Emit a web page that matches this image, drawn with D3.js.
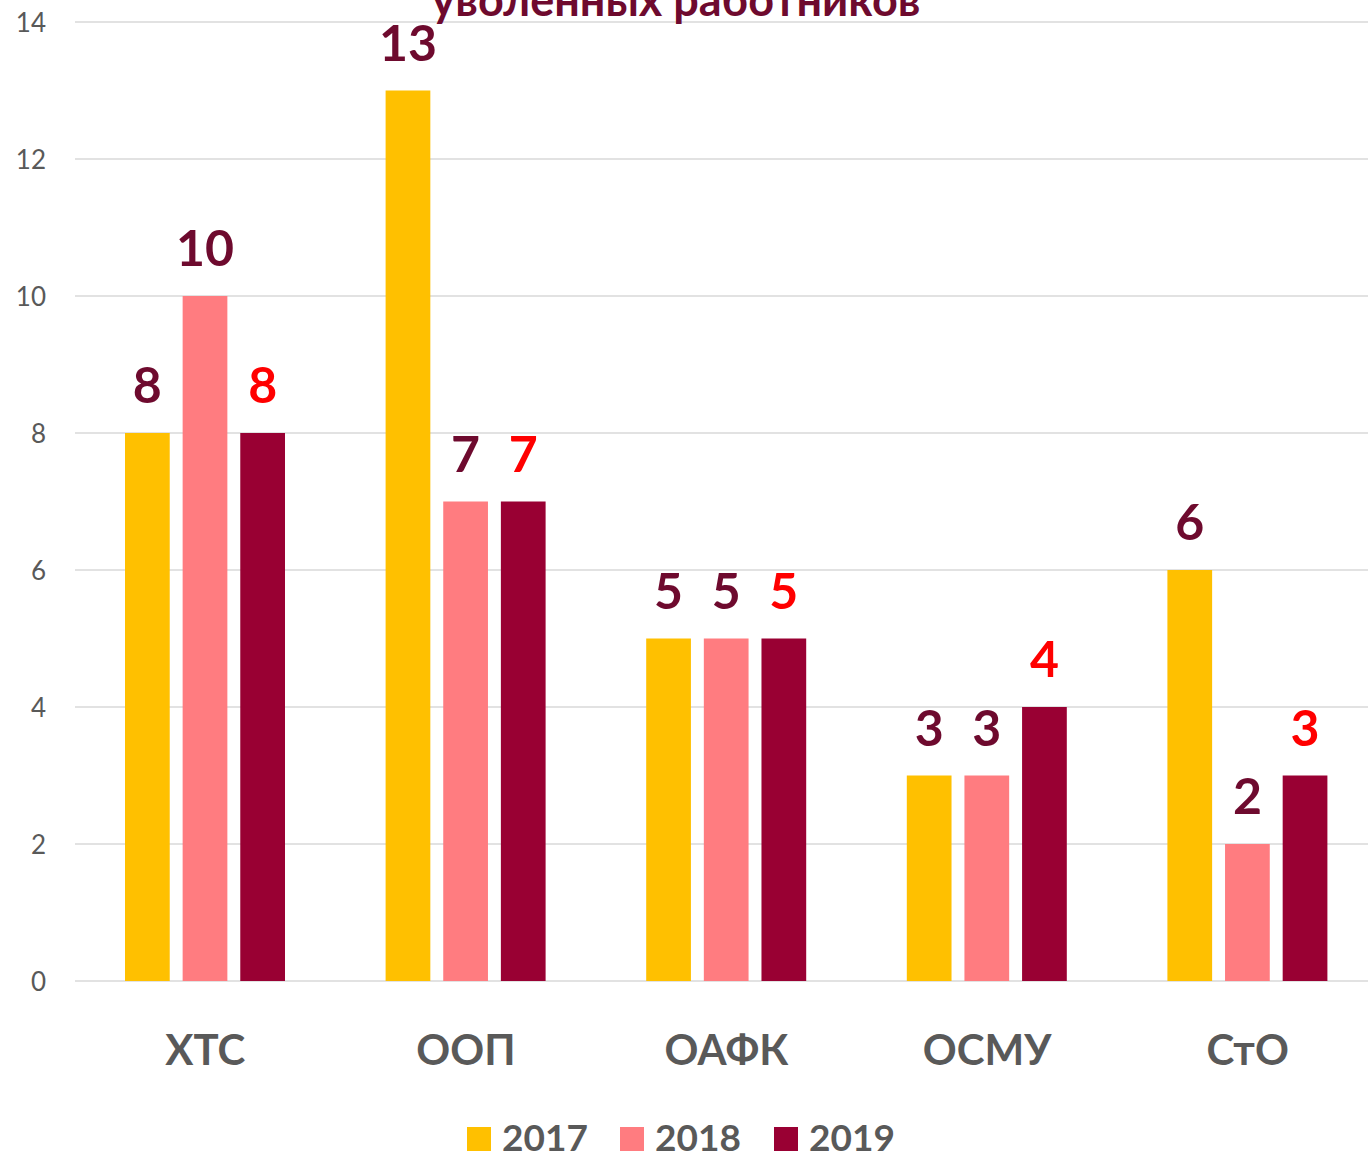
<!DOCTYPE html>
<html><head><meta charset="utf-8">
<script src="https://cdn.jsdelivr.net/npm/d3@7"></script>
<style>body{margin:0;background:#fff}svg{display:block}</style>
</head><body>
<svg id="c" width="1368" height="1156"></svg>
<script>
const categories = ["ХТС","ООП","ОАФК","ОСМУ","СтО"];
const years = ["2017","2018","2019"];
const v2017 = [8,13,5,3,6];
const v2018 = [10,7,5,3,2];
const v2019 = [8,7,5,4,3];
const yTicks = [0,2,4,6,8,10,12,14];
const colors = ["#FFC000","#FF7C80","#990033"];
const labelColors = ["#6E0A2E","#6E0A2E","#FF0000"];
const titleText = "уволенных работников";

const series = [v2017, v2018, v2019];
const svg = d3.select("#c");
const font = "Lato, 'Open Sans', sans-serif";
const x0 = d3.scaleBand().domain(categories).range([75, 1378]).paddingInner(0).paddingOuter(0);
const x1 = d3.scaleBand().domain(years).range([50, 210]).paddingInner(0.224);
const y = d3.scaleLinear().domain([0,14]).range([981, 22]);

// gridlines
svg.append("g").selectAll("line").data(yTicks).join("line")
  .attr("x1",75).attr("x2",1368).attr("y1",d=>y(d)).attr("y2",d=>y(d))
  .attr("stroke","#d9d9d9").attr("stroke-width",1.5);

// y axis
const ya = svg.append("g").attr("transform","translate(46,0)")
  .call(d3.axisLeft(y).tickValues(yTicks).tickSize(0).tickPadding(0));
ya.select(".domain").remove();
ya.selectAll("text").attr("font-family",font).attr("font-size",26).attr("fill","#595959").attr("dy","0.35em");

// bars
years.forEach((yr,i)=>{
  const g = svg.append("g");
  g.selectAll("rect").data(categories).join("rect")
    .attr("x",c=>x0(c)+x1(yr)).attr("width",x1.bandwidth())
    .attr("y",(c,j)=>y(series[i][j])).attr("height",(c,j)=>y(0)-y(series[i][j]))
    .attr("fill",colors[i]);
  g.selectAll("text").data(categories).join("text")
    .attr("x",c=>x0(c)+x1(yr)+x1.bandwidth()/2)
    .attr("y",(c,j)=>y(series[i][j])-30)
    .attr("text-anchor","middle").attr("font-family",font).attr("font-weight",700)
    .attr("font-size",50).attr("fill",labelColors[i])
    .text((c,j)=>series[i][j]);
});

// x axis labels
const xa = svg.append("g").attr("transform","translate(0,981)")
  .call(d3.axisBottom(x0).tickSize(0).tickPadding(0));
xa.select(".domain").remove();
xa.selectAll("text").attr("y",84).attr("dy",0).attr("font-family",font).attr("font-weight",700)
  .attr("font-size",42).attr("fill","#595959");

// title (cut off at top, as in the reference)
svg.append("text").attr("x",676).attr("y",16).attr("text-anchor","middle")
  .attr("font-family",font).attr("font-weight",700).attr("font-size",45).attr("fill","#6E0A2E")
  .text(titleText);

// legend
const legX = [467,620,774];
const lg = svg.append("g");
years.forEach((yr,i)=>{
  lg.append("rect").attr("x",legX[i]).attr("y",1127).attr("width",24).attr("height",24).attr("fill",colors[i]);
  lg.append("text").attr("x",legX[i]+35).attr("y",1151).attr("font-family",font).attr("font-weight",700)
    .attr("font-size",37).attr("fill","#595959").text(yr);
});
</script>
</body></html>
